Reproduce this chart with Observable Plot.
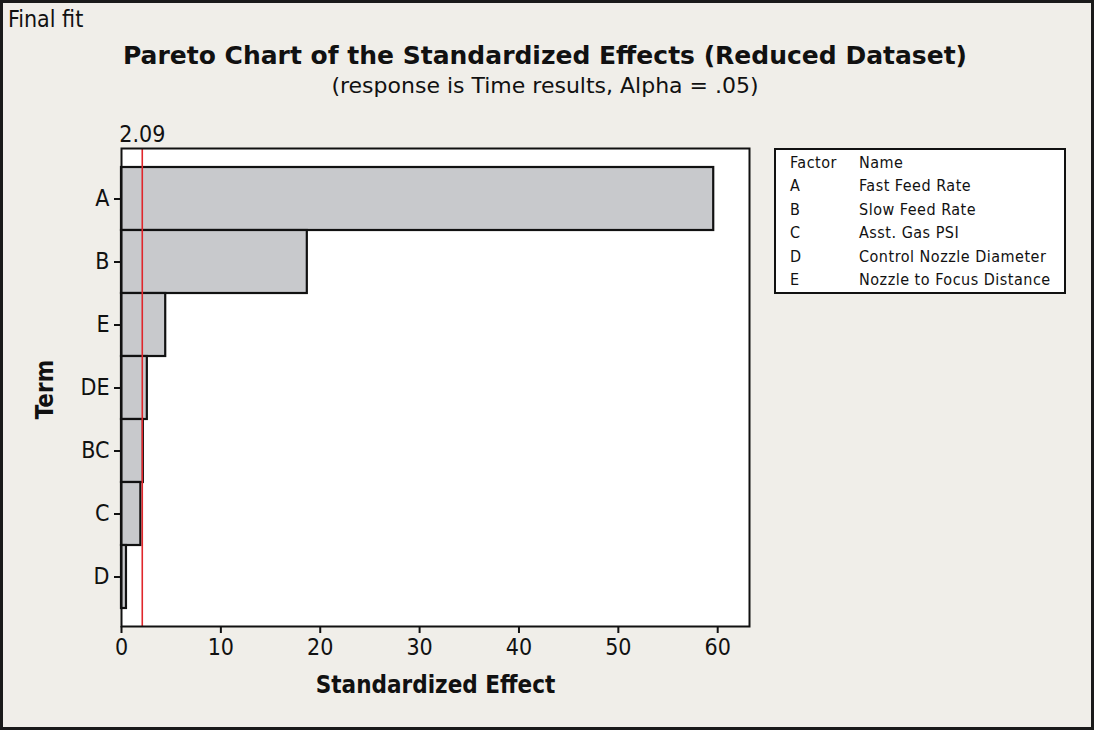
<!DOCTYPE html>
<html>
<head>
<meta charset="utf-8">
<script src="https://cdn.jsdelivr.net/npm/d3@7"></script>
<script src="https://cdn.jsdelivr.net/npm/@observablehq/plot@0.6"></script>
<style>
  html, body { margin: 0; padding: 0; background: #f0eee9; }
  #page { position: relative; width: 1094px; height: 730px; background: #f0eee9; overflow: hidden; font-family: "DejaVu Sans Condensed", "DejaVu Sans", sans-serif; }
  #border { position: absolute; left: 0; top: 0; width: 1094px; height: 730px; box-sizing: border-box; border: 3px solid #1a1a1a; pointer-events: none; }
  #chart { position: absolute; left: 0; top: 0; }
  .t { position: absolute; color: #111; white-space: nowrap; line-height: 1; }
  #corner { left: 8px; top: 8px; font-size: 23px; }
  #title { left: 0; width: 1090px; text-align: center; top: 43px; font-size: 25px; font-weight: bold; font-family: "DejaVu Sans", sans-serif; }
  #subtitle { left: 0; width: 1090px; text-align: center; top: 75px; font-size: 22px; font-family: "DejaVu Sans", sans-serif; }
  #legend { position: absolute; left: 774px; top: 148px; width: 292px; height: 146px; box-sizing: border-box; border: 2px solid #111; background: #fff; font-size: 16px; letter-spacing: 0.5px; color: #111; }
  #legend .row { position: absolute; left: 0; height: 20px; line-height: 20px; }
  #legend .c1 { position: absolute; left: 14px; }
  #legend .c2 { position: absolute; left: 83px; white-space: nowrap; }
</style>
</head>
<body>
<div id="page">
  <div id="chart"></div>
  <div class="t" id="corner">Final fit</div>
  <div class="t" id="title">Pareto Chart of the Standardized Effects (Reduced Dataset)</div>
  <div class="t" id="subtitle">(response is Time results, Alpha = .05)</div>
  <div id="legend"></div>
  <div id="border"></div>
</div>
<script>
const terms = ["A", "B", "E", "DE", "BC", "C", "D"];
const effects = [59.6, 18.7, 4.45, 2.6, 2.2, 1.95, 0.5];
const xTicks = [0, 10, 20, 30, 40, 50, 60];
const criticalValue = 2.09;
const factorCodes = ["A", "B", "C", "D", "E"];
const factorNames = ["Fast Feed Rate", "Slow Feed Rate", "Asst. Gas PSI", "Control Nozzle Diameter", "Nozzle to Focus Distance"];

const data = terms.map((t, i) => ({term: t, effect: effects[i]}));

const font = "DejaVu Sans Condensed, DejaVu Sans, sans-serif";

const chart = Plot.plot({
  width: 1094,
  height: 730,
  marginLeft: 121,
  marginRight: 345,
  marginTop: 148,
  marginBottom: 104,
  style: {background: "transparent", fontFamily: font, color: "#111"},
  x: {domain: [0, 63.2], ticks: xTicks, label: null},
  y: {domain: terms, padding: 0, insetTop: 16, insetBottom: 16, label: null},
  marks: [
    Plot.frame({fill: "white", stroke: null}),
    Plot.barX(data, {x: "effect", y: "term", fill: "#c8c9cc", stroke: "#111", strokeWidth: 2.2}),
    Plot.ruleX([criticalValue], {stroke: "#e0262b", strokeWidth: 1.6}),
    Plot.text([criticalValue], {x: d => d, frameAnchor: "top", dy: -23, text: d => d.toFixed(2), fontSize: 23, fill: "#111"}),
    Plot.frame({stroke: "#111", strokeWidth: 2}),
    Plot.axisX({ticks: xTicks, tickSize: 7, tickPadding: 5, fontSize: 23, stroke: "#111", strokeWidth: 2, label: null, tickFormat: d => String(d)}),
    Plot.axisY({tickSize: 7, tickPadding: 5, fontSize: 23, stroke: "#111", strokeWidth: 2, label: null}),
    Plot.text(["Standardized Effect"], {frameAnchor: "bottom", dy: 66, fontSize: 24, fontWeight: "bold", fill: "#111"}),
    Plot.text(["Term"], {frameAnchor: "left", textAnchor: "middle", dx: -76, dy: 2, rotate: -90, fontSize: 24, fontWeight: "bold", fill: "#111"})
  ]
});
document.getElementById("chart").appendChild(chart);

const legend = document.getElementById("legend");
const rows = [["Factor", "Name"]].concat(factorCodes.map((c, i) => [c, factorNames[i]]));
rows.forEach((r, i) => {
  const div = document.createElement("div");
  div.className = "row";
  div.style.top = (3 + i * 23.4) + "px";
  div.innerHTML = `<span class="c1"></span><span class="c2"></span>`;
  div.querySelector(".c1").textContent = r[0];
  div.querySelector(".c2").textContent = r[1];
  legend.appendChild(div);
});
</script>
</body>
</html>
